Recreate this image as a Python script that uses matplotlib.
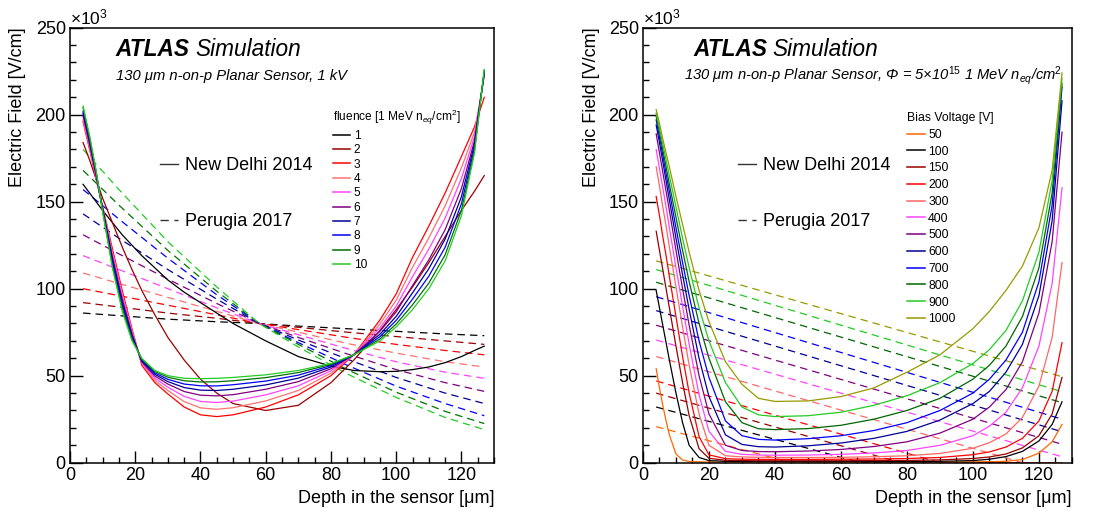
import matplotlib
matplotlib.use('Agg')
import matplotlib.pyplot as plt
from matplotlib.lines import Line2D
from matplotlib.ticker import MultipleLocator

plt.rcParams['font.family'] = ['Liberation Sans', 'DejaVu Sans']
plt.rcParams['mathtext.fontset'] = 'custom'
plt.rcParams['mathtext.rm'] = 'Liberation Sans'
plt.rcParams['mathtext.it'] = 'Liberation Sans:italic'
plt.rcParams['mathtext.bf'] = 'Liberation Sans:bold'

# ---------------- left panel: 1 kV, fluence scan ----------------
fluence_labels = ['1', '2', '3', '4', '5', '6', '7', '8', '9', '10']
fluence_colors = ['#000000', '#990000', '#ff0000', '#ff7070', '#ff44ff',
                  '#800080', '#000099', '#0000ff', '#007000', '#22cc22']

# New Delhi 2014 model (solid), field in 10^3 V/cm
depth_left = [4, 6, 8, 10, 13, 16, 19, 22, 26, 30, 35, 40, 45, 50, 60, 70, 80, 87,
              95, 100, 105, 110, 115, 120, 124, 127]
delhi_fluence = [
    [160, 155, 150, 145, 138, 131, 125, 119, 112, 105, 98, 92, 86, 80, 70, 61, 55.5, 53,
     52.3, 52.5, 53.5, 55, 57.5, 61, 64.5, 67],
    [184, 174, 163, 152, 138, 124, 111, 99, 85, 72, 59, 48, 40, 34, 30, 33, 46, 59,
     76, 88, 101, 115, 130, 145, 156, 165],
    [196, 180, 163, 147, 123, 99, 77, 56, 46, 39.5, 32, 27.5, 26.5, 27.5, 32, 39, 50, 62,
     82, 97, 118, 136, 155, 176, 193, 210],
    [197, 181, 164, 147, 121, 97, 76, 57, 47.3, 41.5, 35.1, 31.5, 30.7, 31.6, 35.5, 41.5, 51.5, 62,
     79.7, 93.4, 112.3, 129.2, 147.6, 169.5, 190, 222],
    [199, 182, 164, 146, 120, 96, 75, 57.5, 48.6, 43.4, 38.1, 35.2, 34.6, 35.4, 39, 44.2, 52.8, 62,
     77.6, 90, 106.9, 122.7, 140.6, 163.4, 187.5, 223],
    [200, 183, 165, 146, 118, 94, 74, 58, 49.8, 45.2, 40.9, 38.8, 38.4, 39.1, 42.2, 46.6, 54, 62,
     75.5, 86.7, 101.8, 116.6, 133.9, 157.6, 185, 224],
    [201, 185, 166, 146, 117, 92, 73, 58.5, 50.8, 46.6, 43.2, 41.7, 41.5, 42.2, 44.7, 48.6, 55, 62,
     73.8, 84.1, 97.6, 111.5, 128.5, 152.9, 183, 224],
    [202, 186, 167, 145, 115, 91, 72, 59, 51.6, 47.9, 45.2, 44.2, 44.1, 44.8, 46.9, 50.3, 55.8, 62,
     72.4, 81.8, 94, 107.2, 123.8, 148.8, 181, 225],
    [204, 187, 167, 145, 113, 89, 71, 59.5, 52.4, 49.1, 47.1, 46.4, 46.5, 47.1, 48.9, 51.8, 56.5, 62,
     71.1, 79.7, 90.7, 103.2, 119.5, 145.1, 179.4, 225.5],
    [205, 188, 168, 144, 112, 87, 70, 60, 53, 50, 48.5, 48.3, 48.5, 49, 50.5, 53, 57, 62,
     70, 78, 88, 100, 116, 142, 178, 226],
]

# Perugia 2017 model (dashed)
perugia_depth_left = [4, 15, 30, 45, 58, 70, 85, 100, 115, 127]
perugia_fluence = [
    [86, 84.5, 82.5, 81, 80, 78.5, 77, 75.5, 74, 73],
    [92, 89.5, 86, 83, 80, 77.8, 75, 72.5, 70, 68],
    [100, 96, 90.5, 85, 80, 76.5, 72, 68, 64.5, 62],
    [109, 103, 95, 87, 80, 75, 68.5, 63, 58, 55],
    [119, 111, 100, 89, 80, 73.5, 65.5, 58, 52, 48.5],
    [131, 120, 105.5, 91.5, 80, 72, 62.5, 53.5, 46, 41],
    [143, 129, 111, 94, 80, 70.5, 59.5, 49, 40, 34],
    [157, 140, 117.5, 96.5, 80, 69, 56, 44, 34, 27],
    [168, 148, 122, 98.5, 80, 68, 53.5, 40.5, 29.5, 22.5],
    [180, 157, 127, 101, 80, 66.5, 51, 37.5, 26, 19],
]

# ---------------- right panel: 5e15, bias scan ----------------
bias_labels = ['50', '100', '150', '200', '300', '400', '500', '600', '700', '800', '900', '1000']
bias_colors = ['#ff6600', '#000000', '#990000', '#ff0000', '#ff6666', '#ff44ff',
               '#800080', '#000099', '#0000ff', '#006600', '#22cc22', '#999900']

depth_right = [4, 5, 6, 7, 8, 10, 12, 14, 17, 20, 25, 30, 35, 40, 50, 60, 70, 80,
               90, 100, 105, 110, 115, 120, 124, 127]
delhi_bias = [
    [54, 43, 33, 24, 16, 5, 1.5, 0.7, 0.5, 0.4, 0.4, 0.4, 0.4, 0.4, 0.4, 0.4, 0.4, 0.4,
     0.4, 0.5, 0.6, 0.8, 1.8, 5.5, 12, 22],
    [99, 89, 79, 69, 59, 40, 23, 10, 3, 1.2, 0.8, 0.7, 0.7, 0.7, 0.7, 0.7, 0.7, 0.7,
     0.8, 1.2, 2, 3.5, 6.5, 12.5, 22, 35],
    [133, 122, 111, 100, 89, 67, 46, 27, 8, 2.5, 1.4, 1.2, 1.1, 1.1, 1.1, 1.1, 1.2, 1.3,
     1.6, 2.4, 3.3, 5, 8.5, 15.5, 28, 49],
    [153, 142, 130, 119, 107, 84, 61, 40, 15, 4.5, 2.3, 2, 1.9, 1.9, 1.9, 2, 2.1, 2.4,
     3, 4.6, 6.2, 9, 14, 24, 41, 69],
    [170, 159, 147, 136, 124, 101, 78, 56, 28, 10, 4, 3.3, 3.1, 3, 3, 3.1, 3.4, 4,
     5.3, 8.3, 11.5, 16.5, 26, 44, 72, 115],
    [180, 169, 158, 147, 135, 112, 90, 68, 39, 18, 6.5, 4.8, 4.4, 4.3, 4.4, 4.8, 5.6, 7,
     10, 15.5, 21, 29, 43, 67, 103, 158],
    [189, 178, 167, 156, 145, 122, 100, 79, 50, 28, 10, 7, 6.4, 6.3, 6.7, 7.6, 9.3, 12,
     17, 25, 32, 42, 58, 86, 127, 190],
    [194, 184, 173, 162, 151, 129, 108, 88, 60, 38, 16, 10.5, 9.2, 9, 9.7, 11.3, 14, 18,
     24.5, 34, 41, 52, 68, 96, 139, 208],
    [197, 187, 177, 166, 156, 135, 115, 96, 70, 49, 24, 15.5, 13.4, 13, 13.8, 15.5, 18.5, 23,
     30, 40, 48, 59, 75, 104, 148, 216],
    [199, 190, 180, 170, 160, 141, 122, 104, 80, 60, 35, 23, 19.5, 19, 19.6, 21.5, 25, 30,
     37, 48, 56, 67, 84, 112, 155, 218],
    [201, 192, 183, 174, 165, 147, 129, 112, 89, 70, 46, 32, 27.5, 26.5, 27, 29, 33, 38.5,
     46, 57, 65, 76, 93, 121, 162, 221],
    [203, 195, 186, 178, 170, 153, 137, 121, 99, 81, 58, 45, 37, 35.2, 35.5, 38, 43, 52,
     62, 77, 87, 99, 113, 135, 168, 224],
]

# Perugia 2017 (dashed): linear, zero where the bulk is undepleted
perugia_bias_depth = [[4, 45, 127], [4, 66, 127], [4, 78, 127], [4, 90, 127], [4, 115, 127],
                      [4, 127], [4, 127], [4, 127], [4, 127], [4, 127], [4, 127], [4, 127]]
perugia_bias_field = [[20.7, 0, 0], [32, 0, 0], [40, 0, 0], [47, 0, 0], [61, 0, 0],
                      [70.5, 3.4], [79, 10.6], [87.4, 17.8], [95.4, 25], [103.7, 34.5],
                      [111, 40.8], [116, 49.4]]

DASH = (0, (6, 4))


def style_axes(ax, ylab_x):
    ax.set_xlim(0, 130)
    ax.set_ylim(0, 250)
    ax.xaxis.set_major_locator(MultipleLocator(20))
    ax.xaxis.set_minor_locator(MultipleLocator(5))
    ax.yaxis.set_major_locator(MultipleLocator(50))
    ax.yaxis.set_minor_locator(MultipleLocator(10))
    ax.tick_params(which='both', direction='in', top=False, right=False, labelsize=13)
    ax.tick_params(which='major', length=9, width=1)
    ax.tick_params(which='minor', length=4.5, width=1)
    ax.tick_params(axis='x', pad=3)
    ax.tick_params(axis='y', pad=3)
    for s in ax.spines.values():
        s.set_linewidth(1.1)
    ax.set_ylabel('Electric Field [V/cm]', fontsize=13, loc='top')
    ax.set_xlabel('Depth in the sensor [μm]', fontsize=13, loc='right')
    ax.yaxis.set_label_coords(ylab_x, 1.0)
    ax.xaxis.set_label_coords(1.0, -0.062)
    ax.text(0.0, 1.0, '×10$^{3}$', transform=ax.transAxes, fontsize=12.5,
            ha='left', va='bottom')


def atlas_label(ax, x, xsub, subtitle):
    t = ax.text(x, 0.951, 'ATLAS', transform=ax.transAxes, fontsize=16.3,
                fontweight='bold', fontstyle='italic', ha='left', va='center')
    ax.annotate('Simulation', xy=(1, 0.5), xycoords=t, xytext=(4, 0),
                textcoords='offset points', fontsize=16.3, fontstyle='italic',
                ha='left', va='center')
    ax.text(xsub, 0.889, subtitle, transform=ax.transAxes, fontsize=10.6,
            fontstyle='italic', ha='left', va='center')


def model_legend(ax, x):
    handles = [Line2D([], [], color='#333333', lw=1.0),
               Line2D([], [], color='#333333', lw=1.0, linestyle=DASH)]
    leg = ax.legend(handles, ['New Delhi 2014', 'Perugia 2017'], loc='upper left',
                    bbox_to_anchor=(x, 0.702), frameon=False, fontsize=13,
                    handlelength=1.0, handletextpad=0.4, labelspacing=2.15,
                    borderpad=0, borderaxespad=0)
    ax.add_artist(leg)


fig = plt.figure(figsize=(11.13, 5.12), dpi=100)
axL = fig.add_axes([0.0629, 0.0963, 0.381, 0.8496])
axR = fig.add_axes([0.5777, 0.0963, 0.3854, 0.8496])

# left panel curves
for i in range(len(fluence_labels)):
    axL.plot(perugia_depth_left, perugia_fluence[i], color=fluence_colors[i], lw=0.9,
             linestyle=DASH)
for i in range(len(fluence_labels)):
    axL.plot(depth_left, delhi_fluence[i], color=fluence_colors[i], lw=0.9)

style_axes(axL, -0.104)
atlas_label(axL, 0.108, 0.108, '130 μm n-on-p Planar Sensor, 1 kV')
model_legend(axL, 0.212)
hL = [Line2D([], [], color=c, lw=1.1) for c in fluence_colors]
legL = axL.legend(hL, fluence_labels, loc='upper left', bbox_to_anchor=(0.62, 0.815),
                  frameon=False, fontsize=8.6, title='fluence [1 MeV n$_{eq}$/cm$^{2}$]',
                  title_fontsize=8.6, alignment='left', handlelength=1.45,
                  handletextpad=0.3, labelspacing=0.2, borderpad=0, borderaxespad=0)

# right panel curves
for i in range(len(bias_labels)):
    axR.plot(perugia_bias_depth[i], perugia_bias_field[i], color=bias_colors[i], lw=0.9,
             linestyle=DASH)
for i in range(len(bias_labels)):
    axR.plot(depth_right, delhi_bias[i], color=bias_colors[i], lw=0.9)

style_axes(axR, -0.10)
atlas_label(axR, 0.1166, 0.095, '130 μm n-on-p Planar Sensor, Φ = 5×10$^{\\mathit{15}}$ '
            '1 MeV n$_{\\mathit{eq}}$/cm$^{\\mathit{2}}$')
model_legend(axR, 0.221)
hR = [Line2D([], [], color=c, lw=1.1) for c in bias_colors]
legR = axR.legend(hR, bias_labels, loc='upper left', bbox_to_anchor=(0.615, 0.806),
                  frameon=False, fontsize=8.8, title='Bias Voltage [V]',
                  title_fontsize=8.8, alignment='left', handlelength=1.45,
                  handletextpad=0.3, labelspacing=0.39, borderpad=0, borderaxespad=0)

fig.savefig('out.png', dpi=100)
